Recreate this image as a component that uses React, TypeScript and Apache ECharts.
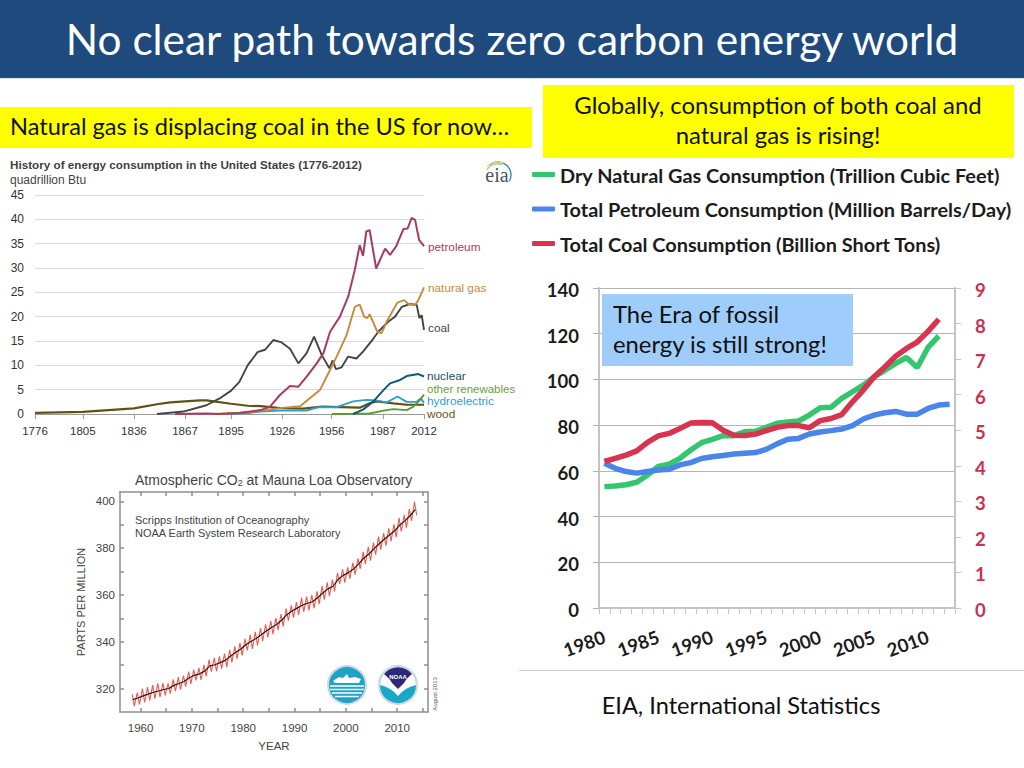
import React, { useEffect, useRef } from "react";
import * as echarts from "echarts";

// ---------- US history chart (year, quadrillion Btu)
const usPetroleum = [[1861,0],[1880,0.1],[1888,0],[1900,0.2],[1913,0.8],[1918.6,1.5],[1924.6,3.9],[1930.7,5.75],[1935.8,5.6],[1940.8,7.7],[1946.9,10.4],[1951,12.5],[1955,16.9],[1961,20],[1966,24.1],[1970,29.6],[1973,34.7],[1975,32.5],[1977,37.5],[1979,37.8],[1983,29.9],[1988.4,34],[1991.4,32.7],[1995,34.4],[1999.5,38],[2002,38.1],[2004.5,40.3],[2006.6,39.9],[2009,35.8],[2012,34.5]];
const usGas = [[1885,0],[1900,0.25],[1913,0.6],[1924.6,1.2],[1936.8,1.6],[1949,5],[1953,7.7],[1959,11.8],[1965,16.2],[1970,22],[1973,22.5],[1975.6,20],[1977.6,19.7],[1979,20.5],[1983.7,16.9],[1986.3,16.6],[1989.4,19],[1995.9,22.9],[2000,23.4],[2002.5,22.6],[2006.6,22.4],[2008.6,23.4],[2012,26]];
const usCoal = [[1850,0],[1866,0.5],[1880,1.8],[1888,3.2],[1895,4.8],[1900,6.6],[1905,10],[1911,12.7],[1915.5,13.2],[1920.6,15.2],[1925.6,14.7],[1930.7,13.4],[1935.8,10.4],[1940.8,12.5],[1945.3,15.9],[1950,12.1],[1954.6,9.4],[1956.6,11],[1958.6,9.2],[1962,9.6],[1966,11.8],[1971,11.4],[1975,12.8],[1981.3,15.5],[1984.3,16.9],[1990.4,19],[1994.4,20],[1998.5,22],[2003.5,22.6],[2007.6,22.4],[2009.2,19.7],[2010.6,20.3],[2012,17.3]];
const usWood = [[1776,0.25],[1805,0.45],[1836,1.15],[1850,2],[1858,2.4],[1867,2.6],[1876,2.8],[1880,2.8],[1895,2.1],[1905,1.7],[1913,1.6],[1924.6,1.2],[1938.8,1.1],[1950,1.5],[1973,1.3],[1979,2.2],[1983.3,2.6],[1993.4,2.2],[2001.5,1.9],[2012,1.9]];
const usHydro = [[1893,0],[1905,0.2],[1913,0.5],[1924.6,0.7],[1940.8,0.7],[1948,1.4],[1959,1.4],[1969,2.6],[1977,2.9],[1983,2.8],[1989.4,2.4],[1995.9,3.6],[2001.5,2.5],[2007.6,2.5],[2010,3.2],[2012,2.3]];
const usNuclear = [[1969,0],[1975,0.9],[1981.3,2.6],[1987.4,4.9],[1991.4,6.3],[1997.5,7],[2001.5,7.8],[2008.6,8.2],[2012,7.7]];
const usRenewables = [[1956,0],[1969,0.05],[1979,0.1],[1987.4,0.7],[1993.4,1],[2001.5,0.8],[2005.6,1.5],[2009.6,2.9],[2012,4]];
const usYearTicks = [1776,1805,1836,1867,1895,1926,1956,1987,2012];

// ---------- Mauna Loa CO2
const co2Years = [1958,1959,1960,1961,1962,1963,1964,1965,1966,1967,1968,1969,1970,1971,1972,1973,1974,1975,1976,1977,1978,1979,1980,1981,1982,1983,1984,1985,1986,1987,1988,1989,1990,1991,1992,1993,1994,1995,1996,1997,1998,1999,2000,2001,2002,2003,2004,2005,2006,2007,2008,2009,2010,2011,2012,2013];
const co2Trend = [315.3,315.97,316.91,317.64,318.45,318.99,319.62,320.04,321.38,322.16,323.04,324.62,325.68,326.32,327.46,329.68,330.18,331.11,332.04,333.83,335.4,336.84,338.75,340.11,341.45,343.05,344.65,346.12,347.42,349.19,351.57,353.12,354.39,355.61,356.45,357.1,358.83,360.82,362.61,363.73,366.7,368.38,369.55,371.14,373.28,375.8,377.52,379.8,381.9,383.79,385.6,387.43,389.9,391.65,393.85,396.52];
const co2Peak = [317.5,318.3,320.0,320.6,321.5,322.2,322.3,322.2,323.9,324.9,325.6,327.3,328.1,328.9,330.1,332.4,333.1,333.8,334.9,336.6,338.0,339.5,341.3,343.0,344.2,345.9,347.4,348.9,350.2,351.8,354.2,355.6,357.0,358.9,359.3,360.0,361.6,363.8,365.4,366.6,369.5,371.0,371.8,373.8,375.6,378.4,380.6,382.4,384.9,386.4,388.5,390.2,393.0,394.2,396.8,399.8];
const co2Trough = [312.5,313.3,314.1,315.0,315.7,316.3,317.1,317.8,318.9,319.6,320.8,322.0,323.5,323.7,325.2,327.2,327.4,328.5,329.2,331.2,332.8,334.2,336.3,337.0,338.4,340.3,341.9,343.3,345.0,346.6,349.0,350.3,351.5,352.8,353.4,354.3,356.1,358.0,359.5,361.5,364.7,365.3,367.0,368.7,371.2,373.3,374.7,377.2,379.4,381.1,382.9,384.7,387.2,388.8,391.7,394.0];

// ---------- World consumption
const worldYears = ["1980","1981","1982","1983","1984","1985","1986","1987","1988","1989","1990","1991","1992","1993","1994","1995","1996","1997","1998","1999","2000","2001","2002","2003","2004","2005","2006","2007","2008","2009","2010","2011","2012"];
const worldGas = [53.1,53.4,53.9,55,58.2,61.9,62.9,65.5,69.1,72.3,73.8,75.4,75.4,77.1,77.3,79,80.8,81.4,81.8,84.4,87.6,87.8,91.7,94.6,97.5,101.1,104,107,109.6,105.2,114,119];
const worldPetroleum = [63.3,61.1,59.7,59,59.7,60.4,60.7,62.6,63.6,65.4,66.2,66.7,67.4,67.7,68,69.4,71.8,73.8,74.2,76.1,77,77.6,78.3,79.8,82.7,84.4,85.4,86,84.8,84.8,87.3,88.8,89.1];
const worldCoal = [4.12,4.21,4.3,4.42,4.66,4.84,4.91,5.05,5.2,5.22,5.21,5.0,4.86,4.85,4.89,4.99,5.08,5.13,5.13,5.07,5.27,5.33,5.44,5.8,6.13,6.5,6.78,7.08,7.3,7.48,7.78,8.12];

const SANS = "Lato, Carlito, sans-serif";
const ARIAL = "'Liberation Sans', Arial, sans-serif";

echarts.graphic.registerShape("noaaWhite", echarts.graphic.extendPath("M-18,0 A18,18 0 0 1 18,0 Q6,3 0,11 Q-6,3 -18,0 Z", {}));
echarts.graphic.registerShape("noaaNavy", echarts.graphic.extendPath("M-14,-11 A18,18 0 0 1 14,-11 Q8,-6 6,-2 Q3,1 0,4 Q-3,1 -6,-2 Q-8,-6 -14,-11 Z", {}));
echarts.graphic.registerShape("ship", echarts.graphic.extendPath("M-14,-1 L-8,-5 L-4,-4 L0,-8 L2,-4 L8,-5 L14,-3 L12,1 L-12,1 Z", {}));

const rect = (x: number, y: number, w: number, h: number, fill: string, z = 20) => ({ type: "rect", z, shape: { x, y, width: w, height: h }, style: { fill } });
const text = (x: number, y: number, t: string, font: string, fill: string, align = "left", extra: any = {}) => ({
  type: "text", z: 30, x, y, ...extra,
  style: { text: t, font, fill, textAlign: align, textVerticalAlign: "middle", ...(extra.style || {}) },
});
const hline = (x1: number, x2: number, y: number, stroke: string, lineWidth = 1, z = 25) => ({ type: "line", z, shape: { x1, y1: y, x2, y2: y }, style: { stroke, lineWidth } });

const line = (name: string, data: any, color: string, width: number, x: number, y: number, extra: any = {}) => ({
  type: "line", name, data, xAxisIndex: x, yAxisIndex: y, showSymbol: false, symbol: "none", smooth: false,
  lineStyle: { color, width }, itemStyle: { color }, silent: true, ...extra,
});

const co2Seasonal: number[][] = [];
co2Years.forEach((y, i) => {
  co2Seasonal.push([y + 0.37, co2Peak[i]]);
  co2Seasonal.push([y + 0.79, co2Trough[i]]);
});
const co2Mean = co2Years.map((y, i) => [y + 0.5, co2Trend[i]]);

const co2Axis = { color: "#8e8e8e", width: 1.5 };

const option: any = {
  animation: false,
  backgroundColor: "#ffffff",
  grid: [
    { left: 35, right: 600, top: 195, bottom: 354 },
    { left: 120, right: 596, top: 492, bottom: 56 },
    { left: 599, right: 69, top: 288, bottom: 160 },
  ],
  legend: {
    show: true, orient: "vertical", left: 532, top: 164, padding: 0, itemWidth: 23, itemHeight: 5, itemGap: 13.5, icon: "roundRect",
    data: ["Dry Natural Gas Consumption (Trillion Cubic Feet)", "Total Petroleum Consumption (Million Barrels/Day)", "Total Coal Consumption (Billion Short Tons)"],
    textStyle: { fontFamily: SANS, fontWeight: "bold", fontSize: 19.9, color: "#1c1c1c", lineHeight: 21 },
  },
  xAxis: [
    { gridIndex: 0, type: "value", min: 1776, max: 2012, splitLine: { show: false },
      axisLine: { lineStyle: { color: "#9a9a9a" } },
      axisTick: { show: true, length: 5, customValues: usYearTicks, lineStyle: { color: "#9a9a9a" } },
      axisLabel: { customValues: usYearTicks, formatter: (v: number) => String(v), fontFamily: ARIAL, fontSize: 11.5, color: "#333", margin: 11 } },
    { gridIndex: 1, type: "value", min: 1956, max: 2016, splitLine: { show: false },
      axisLine: { lineStyle: co2Axis },
      axisTick: { inside: true, length: 4, customValues: [1960,1965,1970,1975,1980,1985,1990,1995,2000,2005,2010,2015], lineStyle: co2Axis },
      axisLabel: { customValues: [1960,1970,1980,1990,2000,2010], formatter: (v: number) => String(v), fontFamily: ARIAL, fontSize: 11.5, color: "#444", margin: 10 },
      name: "YEAR", nameLocation: "middle", nameGap: 28, nameTextStyle: { fontFamily: ARIAL, fontSize: 11.5, color: "#444" } },
    { gridIndex: 1, type: "value", position: "top", min: 1956, max: 2016, splitLine: { show: false },
      axisLine: { lineStyle: co2Axis },
      axisTick: { inside: true, length: 4, customValues: [1960,1965,1970,1975,1980,1985,1990,1995,2000,2005,2010,2015], lineStyle: co2Axis },
      axisLabel: { show: false } },
    { gridIndex: 2, type: "category", data: worldYears, boundaryGap: true,
      axisLine: { lineStyle: { color: "#c4c4c4", width: 2 } },
      axisTick: { show: true, interval: 0, length: 6, lineStyle: { color: "#c4c4c4" } },
      axisLabel: { interval: 4, rotate: 20, fontFamily: SANS, fontWeight: "bold", fontSize: 18.5, color: "#1c1c1c", margin: 28 } },
  ],
  yAxis: [
    { gridIndex: 0, type: "value", min: 0, max: 45, interval: 5, axisLine: { show: false }, axisTick: { show: false },
      splitLine: { lineStyle: { color: "#d9d9d9" } },
      axisLabel: { fontFamily: ARIAL, fontSize: 12, color: "#333", margin: 11 } },
    { gridIndex: 1, type: "value", min: 310, max: 404, splitLine: { show: false },
      axisLine: { show: true, lineStyle: co2Axis },
      axisTick: { show: true, inside: true, length: 4, customValues: [320,330,340,350,360,370,380,390,400], lineStyle: co2Axis },
      axisLabel: { customValues: [320,340,360,380,400], fontFamily: ARIAL, fontSize: 11.5, color: "#444", margin: 5 },
      name: "PARTS PER MILLION", nameLocation: "middle", nameRotate: 90, nameGap: 34, nameTextStyle: { fontFamily: ARIAL, fontSize: 11, color: "#444" } },
    { gridIndex: 1, type: "value", position: "right", min: 310, max: 404, splitLine: { show: false },
      axisLine: { show: true, lineStyle: co2Axis },
      axisTick: { show: true, inside: true, length: 4, customValues: [320,330,340,350,360,370,380,390,400], lineStyle: co2Axis },
      axisLabel: { show: false } },
    { gridIndex: 2, type: "value", min: 0, max: 140, interval: 20,
      axisLine: { show: true, lineStyle: { color: "#c4c4c4", width: 2 } },
      axisTick: { show: true, length: 6, lineStyle: { color: "#b0b0b0" } },
      splitLine: { lineStyle: { color: "#b4b4b4" } },
      axisLabel: { fontFamily: SANS, fontWeight: "bold", fontSize: 18.5, color: "#1c1c1c", margin: 20, verticalAlign: "top", lineHeight: 4 } },
    { gridIndex: 2, type: "value", position: "right", min: 0, max: 9, interval: 1, splitLine: { show: false },
      axisLine: { show: true, lineStyle: { color: "#c4c4c4", width: 2 } },
      axisTick: { show: true, length: 6, lineStyle: { color: "#c4c4c4" } },
      axisLabel: { fontFamily: SANS, fontWeight: "bold", fontSize: 18.5, color: "#c8324f", margin: 20, verticalAlign: "top", lineHeight: 4 } },
  ],
  series: [
    line("wood", usWood, "#5f5312", 2.2, 0, 0),
    line("hydroelectric", usHydro, "#2e9fc9", 1.9, 0, 0),
    line("other renewables", usRenewables, "#5c9a32", 1.9, 0, 0),
    line("nuclear", usNuclear, "#0f5a78", 2, 0, 0),
    line("coal", usCoal, "#444444", 1.9, 0, 0),
    line("natural gas", usGas, "#c68a3e", 1.9, 0, 0),
    line("petroleum", usPetroleum, "#a83c5e", 2, 0, 0),
    line("CO2 seasonal", co2Seasonal, "#ea5a50", 1.1, 1, 1),
    line("CO2 trend", co2Mean, "#2b1512", 1.2, 1, 1),
    line("Dry Natural Gas Consumption (Trillion Cubic Feet)", worldGas, "#33c66e", 5.5, 3, 3),
    line("Total Petroleum Consumption (Million Barrels/Day)", worldPetroleum, "#4a85ea", 5.5, 3, 3),
    line("Total Coal Consumption (Billion Short Tons)", worldCoal, "#d8334f", 5.5, 3, 4),
  ],
  graphic: { elements: [
    rect(0, 0, 1024, 78, "#1f4a7d"),
    hline(0, 1024, 78.5, "#dbe6ef"),
    text(512, 38, "No clear path towards zero carbon energy world", `42.4px ${SANS}`, "#ffffff", "center"),
    rect(0, 107, 532, 41, "#ffff00"),
    text(10, 126, "Natural gas is displacing coal in the US for now…", `23.6px ${SANS}`, "#101010"),
    rect(543, 85, 471, 73, "#ffff00"),
    text(778, 104, "Globally, consumption of both coal and", `23.9px ${SANS}`, "#101010", "center"),
    text(778, 134, "natural gas is rising!", `23.9px ${SANS}`, "#101010", "center"),
    rect(602, 294, 251, 72, "#9fcdfb"),
    text(613, 313.5, "The Era of fossil", `23.8px ${SANS}`, "#101010"),
    text(613, 344, "energy is still strong!", `23.8px ${SANS}`, "#101010"),
    hline(519, 1024, 670.5, "#cfcfcf"),
    text(741, 705, "EIA, International Statistics", `23.6px ${SANS}`, "#101010", "center"),

    text(10, 164.5, "History of energy consumption in the United States (1776-2012)", `bold 11.7px ${ARIAL}`, "#3f3f3f"),
    text(10, 179.5, "quadrillion Btu", `12px ${ARIAL}`, "#444444"),
    text(428, 247, "petroleum", `11.8px ${ARIAL}`, "#a83c5e"),
    text(428, 288, "natural gas", `11.8px ${ARIAL}`, "#c68a3e"),
    text(428, 328, "coal", `11.8px ${ARIAL}`, "#444444"),
    text(427, 376, "nuclear", `11.8px ${ARIAL}`, "#174f6b"),
    text(427, 389, "other renewables", `11.5px ${ARIAL}`, "#6da03c"),
    text(427, 401, "hydroelectric", `11.8px ${ARIAL}`, "#2e9fc9"),
    text(427, 414, "wood", `11.8px ${ARIAL}`, "#6b5320"),
    text(497, 175, "eia", `20px 'Liberation Serif', serif`, "#4a5560", "center"),
    { type: "arc", z: 30, shape: { cx: 498, cy: 175, r: 13, startAngle: -2.3, endAngle: 0.5 }, style: { stroke: "#2a7fbd", lineWidth: 1.3, fill: "none" } },
    { type: "arc", z: 30, shape: { cx: 498, cy: 177, r: 15, startAngle: -2.4, endAngle: -1.2 }, style: { stroke: "#e7d768", lineWidth: 1.3, fill: "none" } },
    { type: "arc", z: 30, shape: { cx: 498, cy: 178, r: 14, startAngle: -2.5, endAngle: -1.3 }, style: { stroke: "#8cc58c", lineWidth: 1.3, fill: "none" } },

    {
      type: "text", z: 30, x: 135, y: 480,
      style: {
        text: "Atmospheric CO{s|2} at Mauna Loa Observatory", font: `14px ${ARIAL}`, fill: "#444444", textVerticalAlign: "middle",
        rich: { s: { font: `9px ${ARIAL}`, fill: "#444444", verticalAlign: "bottom", padding: [6, 0, 0, 0] } },
      },
    },
    text(135, 520, "Scripps Institution of Oceanography", `11px ${ARIAL}`, "#444444"),
    text(135, 533, "NOAA Earth System Research Laboratory", `11px ${ARIAL}`, "#444444"),
    text(435, 694, "August 2013", `6px ${ARIAL}`, "#555555", "center", { rotation: Math.PI / 2 }),

    { type: "circle", z: 30, shape: { cx: 347, cy: 685, r: 19 }, style: { fill: "#1fa3c4", stroke: "#cdd8e6", lineWidth: 2 } },
    { type: "ship", z: 31, x: 347, y: 682, style: { fill: "#ffffff" } },
    hline(330, 364, 686, "#ffffff", 1.5, 31),
    hline(330, 364, 689.5, "#ffffff", 1.5, 31),
    hline(332, 362, 693, "#ffffff", 1.5, 31),
    hline(335, 359, 696.5, "#ffffff", 1.5, 31),
    { type: "circle", z: 30, shape: { cx: 398, cy: 685, r: 19 }, style: { fill: "#1ba7c8", stroke: "#cdd8e6", lineWidth: 2 } },
    { type: "noaaWhite", z: 31, x: 398, y: 685, style: { fill: "#ffffff" } },
    { type: "noaaNavy", z: 32, x: 398, y: 685, style: { fill: "#2c2a78" } },
    text(398, 677, "NOAA", `bold 6px ${ARIAL}`, "#ffffff", "center", { z: 33 }),
  ] },
};

export default function App() {
  const ref = useRef<HTMLDivElement>(null);
  useEffect(() => {
    document.body.style.margin = "0";
    const chart = echarts.init(ref.current!, undefined, { renderer: "svg", width: 1024, height: 768 });
    chart.setOption(option);
    return () => chart.dispose();
  }, []);
  return <div ref={ref} style={{ width: 1024, height: 768 }} />;
}
